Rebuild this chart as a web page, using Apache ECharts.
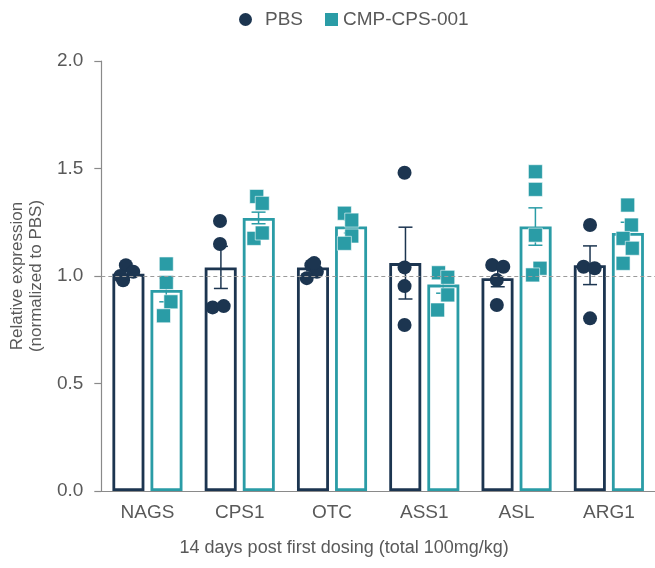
<!DOCTYPE html>
<html>
<head>
<meta charset="utf-8">
<script src="https://cdn.jsdelivr.net/npm/echarts@6/dist/echarts.min.js"></script>
<style>
html,body{margin:0;padding:0;background:#fff;}
#chart{width:655px;height:568px;}
</style>
</head>
<body>
<div id="chart"></div>
<script>
// ---- data ----
const categories = ['NAGS', 'CPS1', 'OTC', 'ASS1', 'ASL', 'ARG1'];
const yTicks = [0, 0.5, 1.0, 1.5, 2.0];
const pbsMean = [1.01, 1.04, 1.04, 1.06, 0.99, 1.05];
const cmpMean = [0.935, 1.27, 1.23, 0.96, 1.23, 1.20];
const pbsSem = [0.015, 0.098, 0.015, 0.167, 0.04, 0.09];
const cmpSem = [0.055, 0.027, 0.03, 0.04, 0.087, 0.05];
const pbsPoints = [
  [1.05, 1.02, 1.0, 0.98],
  [1.256, 1.149, 0.854, 0.86],
  [1.05, 1.02, 0.99, 1.06],
  [1.48, 1.04, 0.953, 0.772],
  [1.051, 1.043, 0.981, 0.865],
  [1.237, 1.043, 1.036, 0.803]
];
const cmpPoints = [
  [1.056, 0.97, 0.88, 0.815],
  [1.37, 1.338, 1.175, 1.20],
  [1.292, 1.26, 1.186, 1.152],
  [1.015, 0.994, 0.912, 0.842],
  [1.485, 1.403, 1.19, 1.036, 1.005],
  [1.33, 1.237, 1.175, 1.129, 1.059]
];
// horizontal jitter of each point (fraction of a category width)
const pbsJitter = [
  [-0.03, 0.05, -0.09, -0.06],
  [-0.01, -0.01, -0.09, 0.03],
  [-0.02, 0.04, -0.07, 0.01],
  [-0.01, -0.01, -0.01, -0.01],
  [-0.06, 0.06, -0.01, -0.01],
  [0, -0.07, 0.05, 0]
];
const cmpJitter = [
  [0, 0, 0.05, -0.03],
  [-0.02, 0.04, -0.05, 0.04],
  [-0.07, 0.01, 0.01, -0.07],
  [-0.05, 0.05, 0.05, -0.06],
  [0, 0, 0, 0.05, -0.03],
  [0, 0.04, -0.05, 0.05, -0.05]
];
const seriesNames = ['PBS', 'CMP-CPS-001'];

// ---- style ----
const NAVY = '#1c3550';
const TEAL = '#2a9ca6';
const TXT = '#595959';
const AXIS = '#8a8a8a';
const OFF = 0.204; // bar centre offset within a category

function pointData(points, jitter, side) {
  const out = [];
  points.forEach((arr, i) => {
    arr.forEach((v, k) => out.push([i + side * OFF + jitter[i][k], v]));
  });
  return out;
}
function errData(mean, sem) {
  return mean.map((m, i) => [i, m, sem[i]]);
}
function errRender(side, color) {
  return function (params, api) {
    const i = api.value(0), m = api.value(1), s = api.value(2);
    const x = i + side * OFF;
    const top = api.coord([x, m + s]);
    const bot = api.coord([x, m - s]);
    const cw = 7;
    const st = { stroke: color, lineWidth: 1.5 };
    return {
      type: 'group',
      children: [
        { type: 'line', shape: { x1: top[0], y1: top[1], x2: bot[0], y2: bot[1] }, style: st },
        { type: 'line', shape: { x1: top[0] - cw, y1: top[1], x2: top[0] + cw, y2: top[1] }, style: st },
        { type: 'line', shape: { x1: bot[0] - cw, y1: bot[1], x2: bot[0] + cw, y2: bot[1] }, style: st }
      ]
    };
  };
}

const chart = echarts.init(document.getElementById('chart'), null, { renderer: 'canvas' });
chart.setOption({
  animation: false,
  textStyle: { fontFamily: 'Liberation Sans, Arial, sans-serif' },
  legend: {
    top: 5,
    left: 234,
    itemWidth: 13,
    itemHeight: 13,
    itemGap: 22,
    textStyle: { color: TXT, fontSize: 19 },
    data: [
      { name: seriesNames[0], icon: 'circle', itemStyle: { color: NAVY, borderWidth: 0 }, textStyle: { padding: [0, 0, 0, 8] } },
      { name: seriesNames[1], icon: 'rect', itemStyle: { color: TEAL, borderWidth: 0 } }
    ]
  },
  grid: { left: 95, right: 0, top: 61, bottom: 77, containLabel: false },
  xAxis: [
    {
      type: 'category',
      data: categories,
      axisLine: { lineStyle: { color: AXIS, width: 1.2 } },
      axisTick: { show: false },
      axisLabel: { color: TXT, fontSize: 19, margin: 12 },
      name: '14 days post first dosing (total 100mg/kg)',
      nameLocation: 'middle',
      nameGap: 48,
      nameTextStyle: { color: TXT, fontSize: 18, padding: [0, 68, 0, 0] }
    },
    {
      type: 'value',
      min: -0.5,
      max: 5.5,
      show: false
    }
  ],
  yAxis: {
    type: 'value',
    min: 0,
    max: 2,
    interval: 0.5,
    axisLine: { show: true, onZero: false, lineStyle: { color: AXIS, width: 1.2 } },
    axisTick: { show: true, length: 7, lineStyle: { color: AXIS, width: 1.2 } },
    splitLine: { show: false },
    axisLabel: {
      color: TXT, fontSize: 19, margin: 18,
      formatter: v => (yTicks.indexOf(v) >= 0 ? v.toFixed(1) : '')
    },
    name: 'Relative expression\n(normalized to PBS)',
    nameLocation: 'middle',
    nameGap: 46,
    nameTextStyle: { color: TXT, fontSize: 17, lineHeight: 19 }
  },
  series: [
    {
      name: seriesNames[0], type: 'bar', xAxisIndex: 0, data: pbsMean,
      barWidth: 32, barGap: '19%', z: 2,
      itemStyle: { color: '#ffffff', borderColor: NAVY, borderWidth: 2.8 },
      markLine: {
        silent: true, symbol: 'none', label: { show: false },
        lineStyle: { type: [4, 3], color: '#9a9a9a', width: 1 },
        data: [{ yAxis: 1 }]
      }
    },
    {
      name: seriesNames[1], type: 'bar', xAxisIndex: 0, data: cmpMean,
      barWidth: 32, barGap: '19%', z: 2,
      itemStyle: { color: '#ffffff', borderColor: TEAL, borderWidth: 2.8 }
    },
    {
      type: 'custom', xAxisIndex: 1, z: 3, data: errData(pbsMean, pbsSem),
      renderItem: errRender(-1, NAVY), silent: true
    },
    {
      type: 'custom', xAxisIndex: 1, z: 3, data: errData(cmpMean, cmpSem),
      renderItem: errRender(1, TEAL), silent: true
    },
    {
      name: seriesNames[0], type: 'scatter', xAxisIndex: 1, z: 4,
      symbol: 'circle', symbolSize: 14,
      itemStyle: { color: NAVY, opacity: 1 },
      data: pointData(pbsPoints, pbsJitter, -1)
    },
    {
      name: seriesNames[1], type: 'scatter', xAxisIndex: 1, z: 4,
      symbol: 'rect', symbolSize: 14,
      itemStyle: { color: TEAL, opacity: 1, borderColor: '#ffffff', borderWidth: 0.6 },
      data: pointData(cmpPoints, cmpJitter, 1)
    }
  ]
});
</script>
</body>
</html>
